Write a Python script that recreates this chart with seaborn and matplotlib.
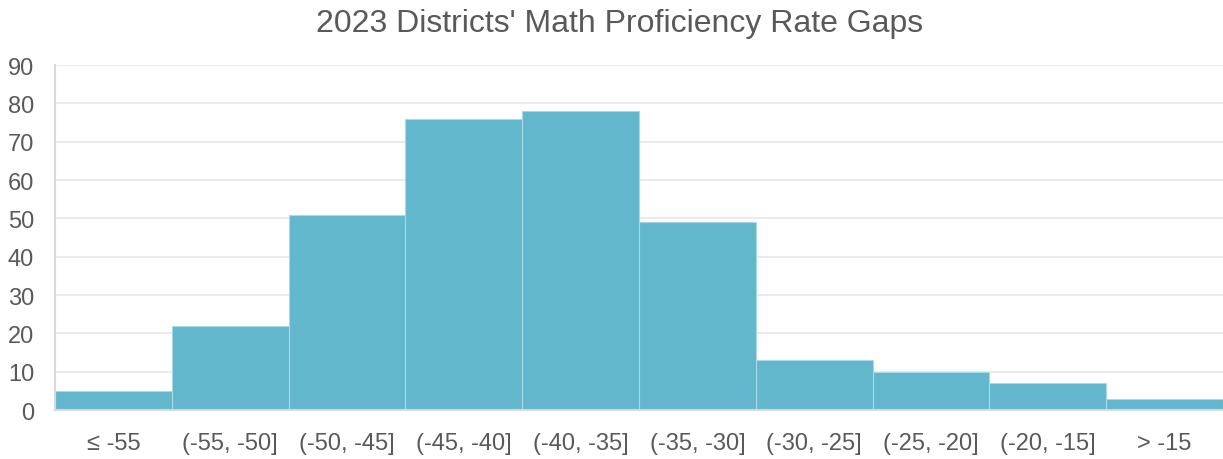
import matplotlib
matplotlib.use("Agg")
import matplotlib.pyplot as plt
import seaborn as sns
import pandas as pd

# bins of the gap and number of districts in each
bins = ["≤ -55", "(-55, -50]", "(-50, -45]", "(-45, -40]", "(-40, -35]",
        "(-35, -30]", "(-30, -25]", "(-25, -20]", "(-20, -15]", "> -15"]
counts = [5, 22, 51, 76, 78, 49, 13, 10, 7, 3]
y_ticks = [0, 10, 20, 30, 40, 50, 60, 70, 80, 90]

title = "2023 Districts' Math Proficiency Rate Gaps"

sns.set_style("white")
plt.rcParams['font.family'] = ['Liberation Sans', 'DejaVu Sans']
text_color = "#595959"

df = pd.DataFrame({'bin': bins, 'count': counts})

fig = plt.figure(figsize=(12.23, 4.6), dpi=100)
ax = fig.add_axes([0.045, 0.1065, 0.955, 0.75])

sns.barplot(data=df, x='bin', y='count', color="#62b7cd", saturation=1,
            width=1.0, edgecolor="#a9d9e6", linewidth=0.8, ax=ax, zorder=2)

ax.set_xlim(-0.5, len(bins) - 0.5)
ax.set_ylim(0, 90)
ax.set_yticks(y_ticks)
ax.yaxis.grid(True, color="#ebebeb", linewidth=1.5, zorder=0)
ax.set_axisbelow(True)

for side in ['top', 'right']:
    ax.spines[side].set_visible(False)
for side in ['left', 'bottom']:
    ax.spines[side].set_color("#d9d9d9")
    ax.spines[side].set_linewidth(1.5)

ax.tick_params(axis='both', length=0, labelsize=17, colors=text_color)
ax.tick_params(axis='x', pad=16)
ax.tick_params(axis='y', pad=15)
ax.set_xlabel("")
ax.set_ylabel("")

fig.text(0.507, 0.948, title, ha='center', va='center', fontsize=23, color=text_color)

fig.savefig("out.png", dpi=100)
